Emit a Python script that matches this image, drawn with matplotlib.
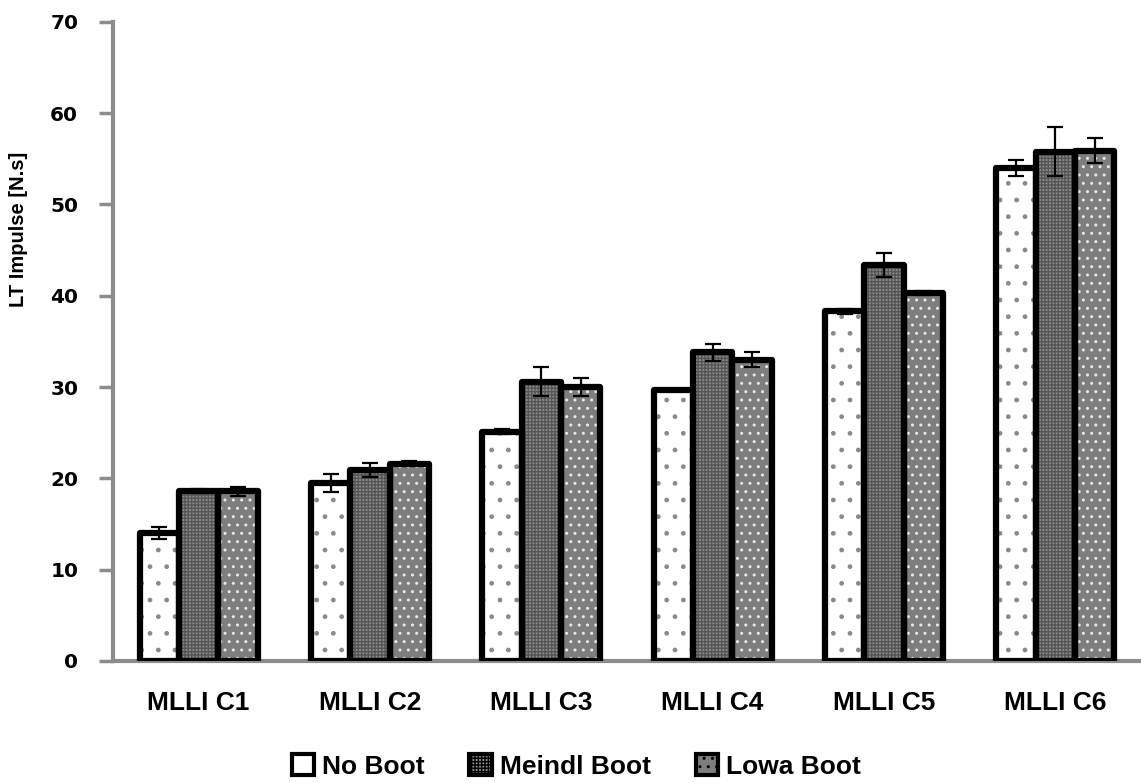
import numpy as np
import matplotlib.pyplot as plt
from matplotlib.patches import Patch

plt.rcParams['hatch.linewidth'] = 1.0

categories = ['MLLI C1', 'MLLI C2', 'MLLI C3', 'MLLI C4', 'MLLI C5', 'MLLI C6']
series = ['No Boot', 'Meindl Boot', 'Lowa Boot']

no_boot = [14.0, 19.5, 25.1, 29.7, 38.3, 54.0]
no_boot_err = [0.7, 1.0, 0.3, 0.1, 0.3, 0.9]
meindl = [18.6, 20.9, 30.6, 33.8, 43.4, 55.8]
meindl_err = [0.2, 0.8, 1.6, 0.9, 1.3, 2.7]
lowa = [18.6, 21.6, 30.0, 33.0, 40.3, 55.9]
lowa_err = [0.5, 0.3, 1.0, 0.8, 0.2, 1.4]

values = [no_boot, meindl, lowa]
errors = [no_boot_err, meindl_err, lowa_err]
faces = ['white', '#8a8a8a', '#7e7e7e']
hatches = ['.', '+++++', '..']
hatch_cols = ['#8a8a8a', '#555555', '#e8e8e8']

lab_font = ['Liberation Sans', 'DejaVu Sans']

fig = plt.figure(figsize=(11.41, 7.83), dpi=100)
ax = fig.add_axes([0.099, 0.156, 0.901, 0.816])

x = np.arange(len(categories))
w = 0.23
for i in range(3):
    pos = x + (i - 1) * w
    # pattern fill, then the heavy black outline over it
    ax.bar(pos, values[i], w, color=faces[i], hatch=hatches[i],
           edgecolor=hatch_cols[i], linewidth=0, zorder=2)
    ax.bar(pos, values[i], w, facecolor='none', edgecolor='black',
           linewidth=4.5, joinstyle='round', zorder=3)
    ax.errorbar(pos, values[i], yerr=errors[i], fmt='none', ecolor='black',
                elinewidth=1.6, capsize=5.5, capthick=1.6, zorder=4)

ax.set_xlim(-0.5, 5.5)
ax.set_ylim(0, 70)
ax.set_yticks(range(0, 71, 10))
ax.set_xticks(x)
ax.set_xticklabels(categories, fontsize=19, fontweight='bold', family=lab_font)
ax.tick_params(axis='x', length=0, pad=22)
ax.tick_params(axis='y', direction='out', length=10, width=2.5, color='#8c8c8c',
               labelsize=14.5, pad=15)
for t in ax.get_yticklabels():
    t.set_fontweight('bold')
    t.set_family('DejaVu Sans')

for s in ['top', 'right']:
    ax.spines[s].set_visible(False)
for s in ['left', 'bottom']:
    ax.spines[s].set_color('#8c8c8c')
    ax.spines[s].set_linewidth(3)

ax.set_ylabel('LT Impulse [N.s]', fontsize=14.5, fontweight='bold', family=lab_font)
ax.yaxis.set_label_coords(-0.083, 0.675)

handles = [Patch(facecolor=faces[i], hatch=hatches[i] if i else None,
                 edgecolor='black', linewidth=3) for i in range(3)]
fig.legend(handles, series, loc='lower center', bbox_to_anchor=(0.505, -0.025),
           ncol=3, frameon=False, handlelength=0.85, handleheight=0.85,
           handletextpad=0.3, columnspacing=1.7,
           prop={'family': lab_font, 'weight': 'bold', 'size': 19})

fig.savefig('out.png', dpi=100)
